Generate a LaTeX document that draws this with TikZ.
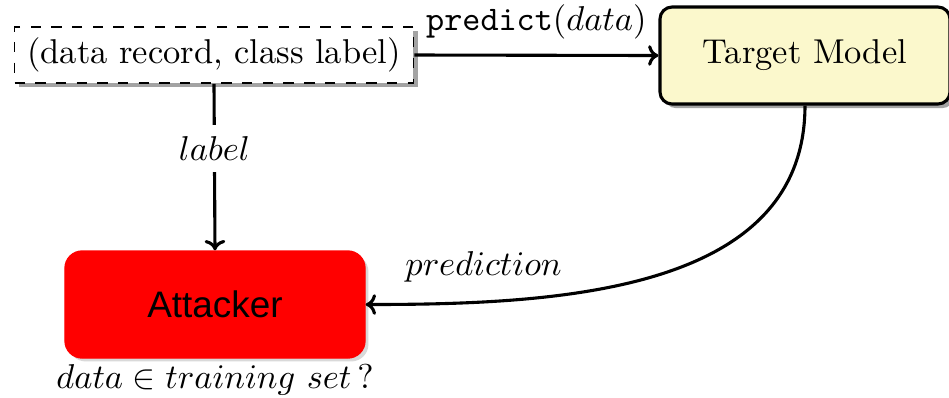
\documentclass[tikz,border=0pt]{standalone}
\usepackage{fontspec}
\newfontfamily\arialfont{Liberation Sans}
\usetikzlibrary{arrows.meta,shadows}
\definecolor{tmyellow}{HTML}{FBF8CC}
\tikzset{
  arr/.style={line width=0.9pt,-{To[length=3pt,width=6pt]}},
  shad/.style={drop shadow={shadow xshift=1.2pt,shadow yshift=-1.2pt,fill=black!45,opacity=0.8}},
  srcbox/.style={draw,dashed,line width=0.5pt,fill=white,shad,minimum width=115.7pt,minimum height=16.24pt,inner sep=0pt},
  tmbox/.style={draw,line width=0.9pt,fill=tmyellow,rounded corners=3.5pt,shad,minimum width=84.1pt,minimum height=28.13pt},
  attbox/.style={draw=red,fill=red,rounded corners=5pt,drop shadow={shadow xshift=1pt,shadow yshift=-1pt,fill=black!25,opacity=0.6},minimum width=87pt,minimum height=31.03pt},
}
\begin{document}
\begin{tikzpicture}[x=0.29pt,y=-0.29pt]
\useasboundingbox (0,0) rectangle (949,397);
\node[srcbox] (src) at (214,55) {(data record, class label)};
\node[tmbox] (tm) at (805,55.5) {Target Model};
\node[attbox] (att) at (215,304.5) {\arialfont\fontsize{10.7}{13}\selectfont Attacker};
\node[anchor=north,inner sep=1.5pt] (q) at (att.south) {$data \in training\ set\,?$};
\draw[arr] (src.east) -- node[above=1pt]{\texttt{predict}$(data)$} (tm.west);
\draw[arr] (src.south) -- node[pos=0.39,fill=white]{$label$} (att.north);
\draw[arr] (tm.south) to[out=-90,in=0] node[pos=0.8,above=2pt]{$prediction$} (att.east);
\end{tikzpicture}
\end{document}
